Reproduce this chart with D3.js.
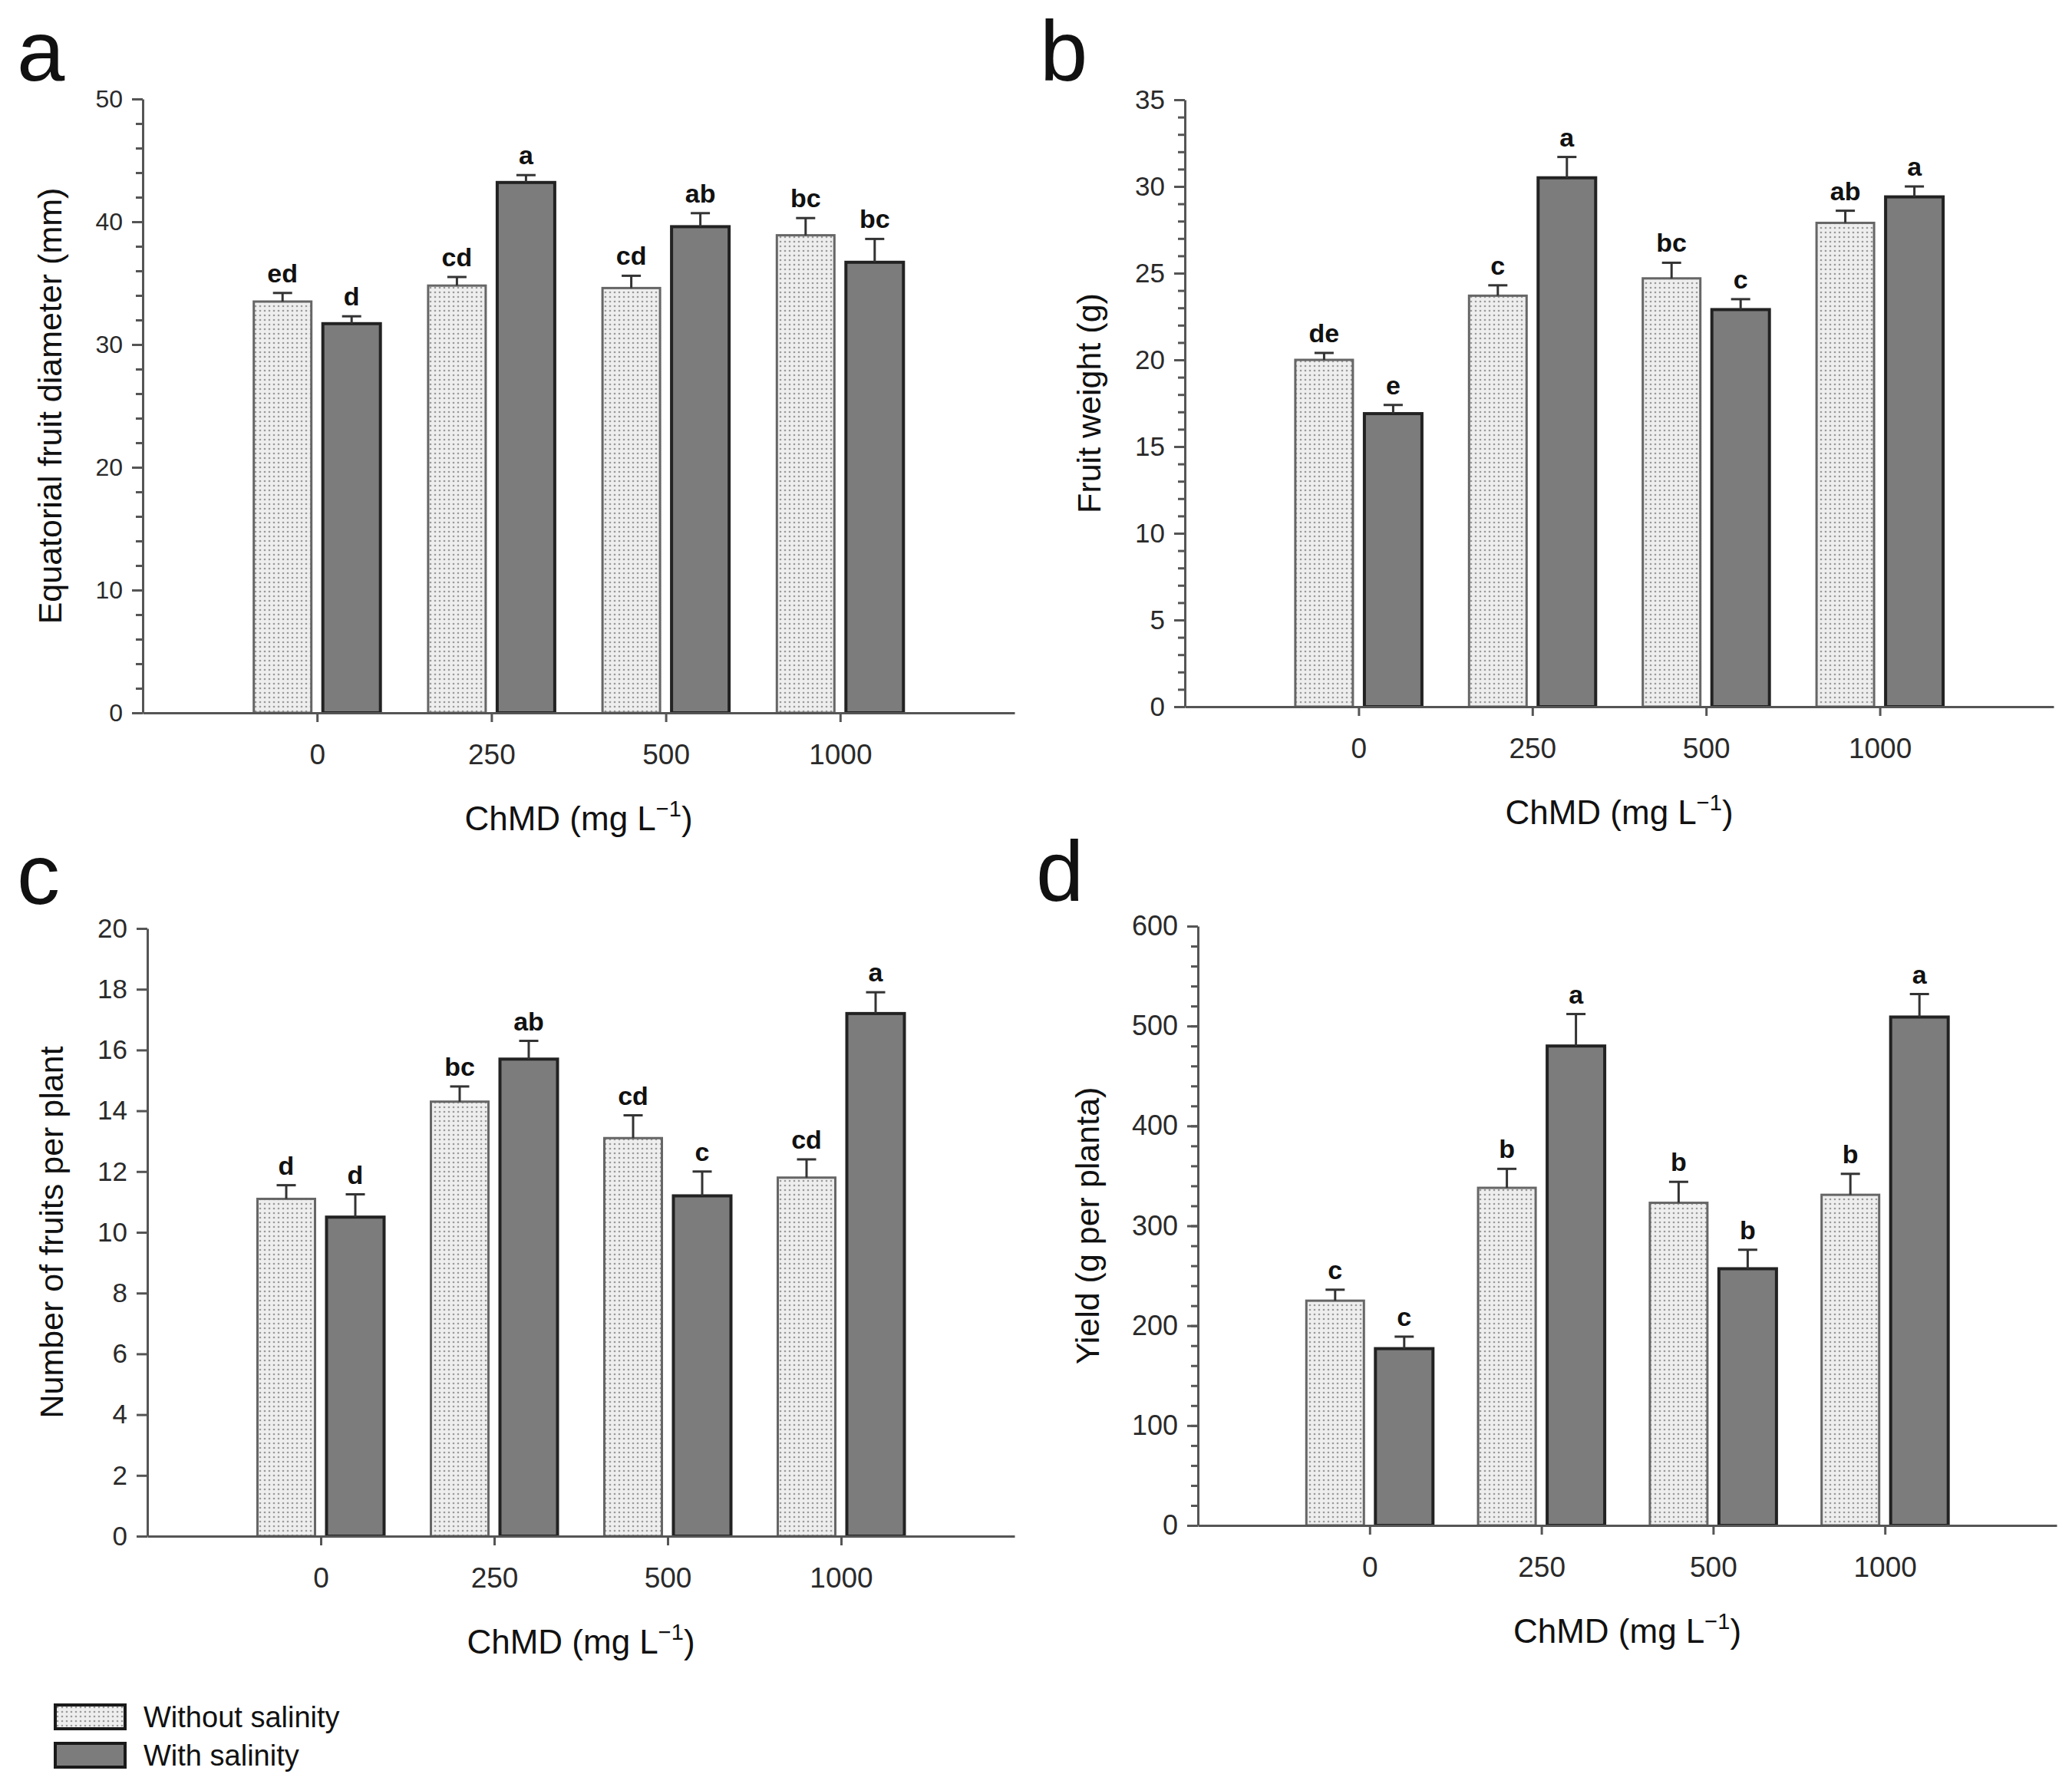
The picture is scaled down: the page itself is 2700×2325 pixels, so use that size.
<!DOCTYPE html>
<html lang="en">
<head>
<meta charset="utf-8">
<title>ChMD and salinity: fruit traits</title>
<script src="https://cdn.jsdelivr.net/npm/d3@7"></script>
<style>
  body { margin: 0; background: #fff; }
  svg text { font-family: "Liberation Sans", Arial, sans-serif; }
  .axis path, .axis line { stroke: #555; stroke-width: 3; }
  .axis text { fill: #2a2a2a; }
  .letters text { font-weight: bold; fill: #111; }
</style>
</head>
<body>
<script>
// categories and series
var doses = ["0", "250", "500", "1000"];
var seriesNames = ["Without salinity", "With salinity"];

// a: equatorial fruit diameter (mm)
var diamWithout = [33.5, 34.8, 34.6, 38.9];
var diamWith = [31.7, 43.2, 39.6, 36.7];
var diamErrWithout = [0.7, 0.7, 1.0, 1.4];
var diamErrWith = [0.6, 0.6, 1.1, 1.9];
var diamLetWithout = ["ed", "cd", "cd", "bc"];
var diamLetWith = ["d", "a", "ab", "bc"];
var diamTicks = [0, 10, 20, 30, 40, 50];

// b: fruit weight (g)
var weightWithout = [20.0, 23.7, 24.7, 27.9];
var weightWith = [16.9, 30.5, 22.9, 29.4];
var weightErrWithout = [0.4, 0.6, 0.9, 0.7];
var weightErrWith = [0.5, 1.2, 0.6, 0.6];
var weightLetWithout = ["de", "c", "bc", "ab"];
var weightLetWith = ["e", "a", "c", "a"];
var weightTicks = [0, 5, 10, 15, 20, 25, 30, 35];

// c: number of fruits per plant
var fruitsWithout = [11.1, 14.3, 13.1, 11.8];
var fruitsWith = [10.5, 15.7, 11.2, 17.2];
var fruitsErrWithout = [0.45, 0.5, 0.75, 0.6];
var fruitsErrWith = [0.75, 0.6, 0.8, 0.7];
var fruitsLetWithout = ["d", "bc", "cd", "cd"];
var fruitsLetWith = ["d", "ab", "c", "a"];
var fruitsTicks = [0, 2, 4, 6, 8, 10, 12, 14, 16, 18, 20];

// d: yield (g per planta)
var yieldWithout = [225, 338, 323, 331];
var yieldWith = [177, 480, 257, 509];
var yieldErrWithout = [11, 19, 21, 21];
var yieldErrWith = [12, 32, 19, 23];
var yieldLetWithout = ["c", "b", "b", "b"];
var yieldLetWith = ["c", "a", "b", "a"];
var yieldTicks = [0, 100, 200, 300, 400, 500, 600];

var w = 2700;
var h = 2325;
var barW = 75;
var barGap = 15;

var panels = [
  { letter: "a", title: "Equatorial fruit diameter (mm)", ticks: diamTicks, minor: 2,
    vals: [diamWithout, diamWith], errs: [diamErrWithout, diamErrWith], lets: [diamLetWithout, diamLetWith],
    left: 186, right: 1322, top: 129, bottom: 929, tickFont: 32, titleX: 80, letterX: 22, letterY: 105 },
  { letter: "b", title: "Fruit weight (g)", ticks: weightTicks, minor: 1,
    vals: [weightWithout, weightWith], errs: [weightErrWithout, weightErrWith], lets: [weightLetWithout, weightLetWith],
    left: 1544, right: 2676, top: 130, bottom: 921, tickFont: 35, titleX: 1434, letterX: 1355, letterY: 105 },
  { letter: "c", title: "Number of fruits per plant", ticks: fruitsTicks, minor: 0,
    vals: [fruitsWithout, fruitsWith], errs: [fruitsErrWithout, fruitsErrWith], lets: [fruitsLetWithout, fruitsLetWith],
    left: 192, right: 1322, top: 1210, bottom: 2002, tickFont: 35, titleX: 82, letterX: 22, letterY: 1178 },
  { letter: "d", title: "Yield (g per planta)", ticks: yieldTicks, minor: 20,
    vals: [yieldWithout, yieldWith], errs: [yieldErrWithout, yieldErrWith], lets: [yieldLetWithout, yieldLetWith],
    left: 1561, right: 2680, top: 1207, bottom: 1988, tickFont: 36, titleX: 1432, letterX: 1350, letterY: 1174 }
];

var svg = d3.select("body")
  .append("svg")
  .attr("width", w)
  .attr("height", h);

// dotted fill for the "without salinity" bars
var pat = svg.append("defs").append("pattern")
  .attr("id", "dots")
  .attr("patternUnits", "userSpaceOnUse")
  .attr("width", 6)
  .attr("height", 6);
pat.append("rect").attr("width", 6).attr("height", 6).attr("fill", "#eeeeee");
pat.append("circle").attr("cx", 3).attr("cy", 3).attr("r", 1.3).attr("fill", "#9a9a9a");

var fills = ["url(#dots)", "#7c7c7c"];
var strokes = ["#666", "#222"];
var strokeW = [3, 4];

panels.forEach(function (p) {
  var g = svg.append("g");
  var yMax = p.ticks[p.ticks.length - 1];

  var xScale = d3.scalePoint()
    .domain(doses)
    .range([p.left, p.right])
    .padding(1);

  var yScale = d3.scaleLinear()
    .domain([0, yMax])
    .range([p.bottom, p.top]);

  // bars, error bars and letters for both series
  [0, 1].forEach(function (s) {
    var rows = doses.map(function (d, i) {
      return { dose: d, v: p.vals[s][i], e: p.errs[s][i], l: p.lets[s][i] };
    });
    var bx = function (d) {
      return s === 0 ? xScale(d.dose) - barGap / 2 - barW : xScale(d.dose) + barGap / 2;
    };

    g.append("g").selectAll("rect")
      .data(rows)
      .enter()
      .append("rect")
      .attr("x", bx)
      .attr("y", function (d) { return yScale(d.v); })
      .attr("width", barW)
      .attr("height", function (d) { return yScale(0) - yScale(d.v); })
      .attr("fill", fills[s])
      .attr("stroke", strokes[s])
      .attr("stroke-width", strokeW[s]);

    var eb = g.append("g").attr("stroke", "#333").attr("stroke-width", 3);
    eb.selectAll("line.v")
      .data(rows)
      .enter()
      .append("line")
      .attr("class", "v")
      .attr("x1", function (d) { return bx(d) + barW / 2; })
      .attr("x2", function (d) { return bx(d) + barW / 2; })
      .attr("y1", function (d) { return yScale(d.v); })
      .attr("y2", function (d) { return yScale(d.v + d.e); });
    eb.selectAll("line.cap")
      .data(rows)
      .enter()
      .append("line")
      .attr("class", "cap")
      .attr("x1", function (d) { return bx(d) + barW / 2 - 12.5; })
      .attr("x2", function (d) { return bx(d) + barW / 2 + 12.5; })
      .attr("y1", function (d) { return yScale(d.v + d.e); })
      .attr("y2", function (d) { return yScale(d.v + d.e); });

    g.append("g").attr("class", "letters").selectAll("text")
      .data(rows)
      .enter()
      .append("text")
      .attr("x", function (d) { return bx(d) + barW / 2; })
      .attr("y", function (d) { return yScale(d.v + d.e) - 14; })
      .attr("text-anchor", "middle")
      .attr("font-size", 34)
      .text(function (d) { return d.l; });
  });

  // y axis, minor ticks first
  if (p.minor > 0) {
    var minorAxis = d3.axisLeft(yScale)
      .tickValues(d3.range(0, yMax + p.minor / 2, p.minor))
      .tickSize(9)
      .tickFormat("");
    g.append("g")
      .attr("class", "axis")
      .attr("transform", "translate(" + p.left + ",0)")
      .call(minorAxis)
      .select(".domain").remove();
  }

  var yAxis = d3.axisLeft(yScale)
    .tickValues(p.ticks)
    .tickSize(14)
    .tickSizeOuter(0)
    .tickPadding(12);
  g.append("g")
    .attr("class", "axis")
    .attr("transform", "translate(" + p.left + ",0)")
    .call(yAxis)
    .selectAll("text")
    .attr("font-size", p.tickFont);

  // x axis
  var xAxis = d3.axisBottom(xScale)
    .tickSize(12)
    .tickSizeOuter(0)
    .tickPadding(29);
  g.append("g")
    .attr("class", "axis")
    .attr("transform", "translate(0," + p.bottom + ")")
    .call(xAxis)
    .selectAll("text")
    .attr("font-size", 37)
    .attr("fill", "#111");

  // axis titles
  var xt = g.append("text")
    .attr("x", (p.left + p.right) / 2)
    .attr("y", p.bottom + 153)
    .attr("text-anchor", "middle")
    .attr("font-size", 44)
    .attr("fill", "#111");
  xt.append("tspan").text("ChMD (mg L");
  xt.append("tspan").attr("font-size", 29).attr("dy", -18).text("\u22121");
  xt.append("tspan").attr("dy", 18).text(")");

  g.append("text")
    .attr("transform", "translate(" + p.titleX + "," + (p.top + p.bottom) / 2 + ") rotate(-90)")
    .attr("text-anchor", "middle")
    .attr("font-size", 43)
    .attr("fill", "#111")
    .text(p.title);

  // panel letter
  g.append("text")
    .attr("x", p.letterX)
    .attr("y", p.letterY)
    .attr("font-size", 112)
    .attr("fill", "#111")
    .text(p.letter);
});

// legend
var legend = svg.append("g").attr("transform", "translate(72,2222)");
seriesNames.forEach(function (name, i) {
  legend.append("rect")
    .attr("x", 0)
    .attr("y", i * 50)
    .attr("width", 91)
    .attr("height", 31)
    .attr("fill", fills[i])
    .attr("stroke", "#1a1a1a")
    .attr("stroke-width", 4);
  legend.append("text")
    .attr("x", 115)
    .attr("y", i * 50 + 29)
    .attr("font-size", 38)
    .attr("fill", "#111")
    .text(name);
});
</script>
</body>
</html>
